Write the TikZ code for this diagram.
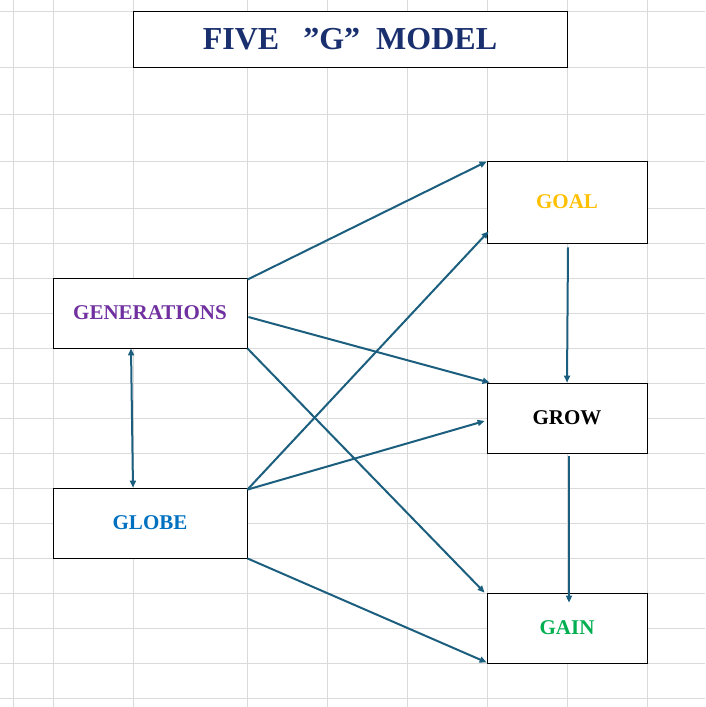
\documentclass[tikz,border=0pt]{standalone}
\usepackage{fontspec}
\setmainfont{Liberation Serif}
\usetikzlibrary{calc,arrows.meta}
\definecolor{gridc}{HTML}{DADADA}
\definecolor{arr}{HTML}{1B5E7E}
\definecolor{navy}{HTML}{1A2F6E}
\definecolor{purp}{HTML}{7030A0}
\definecolor{blu}{HTML}{0070C0}
\definecolor{gold}{HTML}{FFC000}
\definecolor{grn}{HTML}{00B050}
\begin{document}
\begin{tikzpicture}[x=1pt,y=-1pt,
  box/.style={draw=black,line width=0.8pt,fill=white,inner sep=0pt,font=\bfseries\fontsize{21}{21}\selectfont},
  con/.style={draw=arr,line width=2pt,-{Triangle[length=7pt,width=6pt]}},
  dcon/.style={draw=arr,line width=2pt,{Triangle[length=7pt,width=6pt]}-{Triangle[length=7pt,width=6pt]}}]
\useasboundingbox (0,0) rectangle (705,707);
\foreach \x in {13,53,133,247,327,407,487,567,647} \draw[gridc,line width=0.8pt] (\x,0) -- (\x,707);
\foreach \y in {11,67,114,161,208,243,278,313,348,383,418,453,488,523,558,593,628,663,698} \draw[gridc,line width=0.8pt] (0,\y) -- (705,\y);
\node[box,minimum width=434pt,minimum height=56pt,font=\bfseries\fontsize{32}{32}\selectfont,text=navy] (title) at (350,39) {FIVE\ \ \ "G"\ \ MODEL};
\node[box,minimum width=194pt,minimum height=70pt,text=purp] (gen) at (150,313) {GENERATIONS};
\node[box,minimum width=194pt,minimum height=70pt,text=blu] (globe) at (150,523) {GLOBE};
\node[box,minimum width=160pt,minimum height=82pt,text=gold] (goal) at (567,202) {GOAL};
\node[box,minimum width=160pt,minimum height=70pt,text=black] (grow) at (567,418) {GROW};
\node[box,minimum width=160pt,minimum height=70pt,text=grn] (gain) at (567,628) {GAIN};
\draw[con] ($(gen.north east)+(0,2)$) -- ($(goal.north west)+(0,1)$);
\draw[con] ($(gen.east)+(1,4)$) -- ($(grow.north west)+(3,0)$);
\draw[con] (gen.south east) -- ($(gain.north west)+(-2,0)$);
\draw[con] ($(globe.north east)+(0,2)$) -- ($(goal.south west)+(2,-12)$);
\draw[con] ($(globe.north east)+(0,2)$) -- ($(grow.west)+(-2,3)$);
\draw[con] (globe.south east) -- ($(gain.south west)+(0,-1)$);
\draw[con] ($(goal.south)+(1,4)$) -- (grow.north);
\draw[con] ($(grow.south)+(2,3)$) -- ($(gain.north)+(2,10)$);
\draw[dcon] ($(gen.south)+(-19,0)$) -- ($(globe.north)+(-17,0)$);
\end{tikzpicture}
\end{document}
